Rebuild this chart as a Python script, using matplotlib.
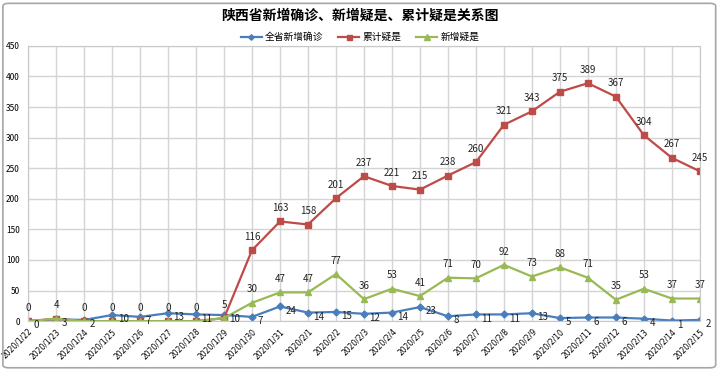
import matplotlib.pyplot as plt
from matplotlib.patches import FancyBboxPatch

plt.rcParams['font.family'] = ['Noto Sans CJK SC', 'DejaVu Sans']

dates = ["2020/1/22", "2020/1/23", "2020/1/24", "2020/1/25", "2020/1/26",
         "2020/1/27", "2020/1/28", "2020/1/29", "2020/1/30", "2020/1/31",
         "2020/2/1", "2020/2/2", "2020/2/3", "2020/2/4", "2020/2/5",
         "2020/2/6", "2020/2/7", "2020/2/8", "2020/2/9", "2020/2/10",
         "2020/2/11", "2020/2/12", "2020/2/13", "2020/2/14", "2020/2/15"]
confirmed = [0, 3, 2, 10, 7, 13, 11, 10, 7, 24, 14, 15, 12, 14, 23,
             8, 11, 11, 13, 5, 6, 6, 4, 1, 2]
suspect_total = [0, 4, 0, 0, 0, 0, 0, 5, 116, 163, 158, 201, 237, 221, 215,
                 238, 260, 321, 343, 375, 389, 367, 304, 267, 245]
suspect_new = [0, 4, 0, 0, 0, 0, 0, 5, 30, 47, 47, 77, 36, 53, 41,
               71, 70, 92, 73, 88, 71, 35, 53, 37, 37]

blue = "#4A7EBB"
red = "#BE4B48"
green = "#98B954"

fig = plt.figure(figsize=(7.2, 3.7), dpi=100)
fig.patches.append(FancyBboxPatch((0.004, 0.006), 0.99, 0.985,
                                  boxstyle="round,pad=0,rounding_size=0.008",
                                  transform=fig.transFigure, fill=False,
                                  edgecolor="#A6A6A6", linewidth=1.2))
ax = fig.add_axes([0.039, 0.132, 0.933, 0.744])

x = list(range(len(dates)))
ax.plot(x, confirmed, color=blue, marker="D", markersize=3.5, linewidth=1.6,
        label="全省新增确诊")
ax.plot(x, suspect_total, color=red, marker="s", markersize=4.5, linewidth=1.6,
        label="累计疑是")
ax.plot(x, suspect_new, color=green, marker="^", markersize=5, linewidth=1.6,
        label="新增疑是")

for i, v in enumerate(confirmed):
    ax.annotate(str(v), (i, v), xytext=(4, -3), textcoords="offset points",
                ha="left", va="center", fontsize=7, color="#222222")
for i, v in enumerate(suspect_total):
    if suspect_total[i] != suspect_new[i]:
        ax.annotate(str(v), (i, v), xytext=(0, 6), textcoords="offset points",
                    ha="center", va="bottom", fontsize=7, color="#222222")
for i, v in enumerate(suspect_new):
    ax.annotate(str(v), (i, v), xytext=(0, 6), textcoords="offset points",
                ha="center", va="bottom", fontsize=7, color="#222222")

ax.set_xlim(0, len(dates) - 1)
ax.set_ylim(0, 450)
ax.set_yticks(range(0, 451, 50))
ax.set_xticks(x)
ax.set_xticklabels(dates, rotation=45, ha="right", rotation_mode="anchor",
                   fontsize=5.5, family="DejaVu Sans")
ax.tick_params(axis="y", labelsize=6, length=0, pad=6)
ax.tick_params(axis="x", length=0, pad=4)
ax.grid(True, color="#D4D4D4", linewidth=1)
ax.set_axisbelow(True)
for s in ax.spines.values():
    s.set_color("#C8C8C8")

fig.text(0.5, 0.958, "陕西省新增确诊、新增疑是、累计疑是关系图", ha="center", va="center",
         fontsize=10, fontweight="bold")
fig.legend(loc="center", bbox_to_anchor=(0.5, 0.9), ncol=3, frameon=False,
           fontsize=7, handlelength=2.2, handletextpad=0.3, columnspacing=1.5,
           markerscale=0.8)

fig.savefig("out.png", dpi=100)
